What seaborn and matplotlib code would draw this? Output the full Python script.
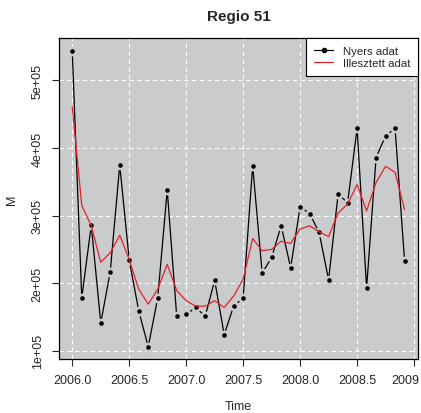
import numpy as np
import pandas as pd
import seaborn as sns
import matplotlib.pyplot as plt
import matplotlib.transforms as mtrans
from matplotlib.lines import Line2D

# monthly data, 2006.0 .. 2008.917
time = 2006 + np.arange(36) / 12

nyers = [5.43, 1.78, 2.86, 1.41, 2.17, 3.75, 2.34, 1.59, 1.06, 1.78,
         3.38, 1.51, 1.54, 1.64, 1.51, 2.04, 1.24, 1.66, 1.78, 3.74,
         2.15, 2.38, 2.85, 2.23, 3.13, 3.03, 2.75, 2.05, 3.32, 3.19,
         4.29, 1.93, 3.86, 4.18, 4.29, 2.33]

illesztett = [4.61, 3.15, 2.85, 2.31, 2.45, 2.71, 2.35, 1.91, 1.69, 1.91,
              2.28, 1.89, 1.74, 1.66, 1.66, 1.74, 1.64, 1.81, 2.06, 2.66,
              2.48, 2.50, 2.62, 2.59, 2.80, 2.85, 2.76, 2.69, 3.04, 3.17,
              3.46, 3.07, 3.49, 3.73, 3.64, 3.09]

df = pd.DataFrame({"Time": time,
                   "Nyers": np.array(nyers) * 1e5,
                   "Illesztett": np.array(illesztett) * 1e5})

bg = "#c9cbcc"
sns.set_style("ticks", {"axes.facecolor": bg})
plt.rcParams["font.family"] = ["Liberation Sans", "DejaVu Sans"]

fig = plt.figure(figsize=(4.21, 4.14), dpi=100)
ax = fig.add_axes([0.140, 0.130, 0.853, 0.776])

# raw data, R type="b": line with gaps around points
sns.lineplot(data=df, x="Time", y="Nyers", color="black", linewidth=0.9, ax=ax, zorder=2)
sns.scatterplot(data=df, x="Time", y="Nyers", color=bg, s=50, linewidth=0, ax=ax, zorder=3)
sns.scatterplot(data=df, x="Time", y="Nyers", color="black", s=11, linewidth=0, ax=ax, zorder=4)
# fitted
sns.lineplot(data=df, x="Time", y="Illesztett", color="#e8202a", linewidth=0.9, ax=ax, zorder=5)

ax.set_xlim(2005.883, 2009.035)
ax.set_ylim(0.875e5, 5.63e5)
ax.set_xticks([2006.0, 2006.5, 2007.0, 2007.5, 2008.0, 2008.5, 2009.0])
ax.set_xticklabels(["2006.0", "2006.5", "2007.0", "2007.5", "2008.0", "2008.5", "2009"])
ax.set_yticks([1e5, 2e5, 3e5, 4e5, 5e5])
ax.set_yticklabels(["1e+05", "2e+05", "3e+05", "4e+05", "5e+05"], rotation=90, va="center")
ax.grid(True, color="white", linestyle=(0, (4, 3)), linewidth=0.8)
ax.set_axisbelow(True)
ax.tick_params(direction="out", length=5, width=0.8, labelsize=9, pad=6)
# keep the last x label inside the picture
last = ax.get_xticklabels()[-1]
last.set_transform(last.get_transform() + mtrans.ScaledTranslation(-9 / 100, 0, fig.dpi_scale_trans))
for s in ax.spines.values():
    s.set_visible(True)
    s.set_color("black")
    s.set_linewidth(0.9)

ax.set_xlabel("Time", fontsize=9, labelpad=10)
ax.set_ylabel("M", fontsize=9, labelpad=10)
ax.set_title("Regio 51", fontsize=11, fontweight="bold", pad=13)

handles = [Line2D([], [], color="black", linewidth=0.9, marker="o", markersize=3),
           Line2D([], [], color="#e8202a", linewidth=0.9)]
leg = ax.legend(handles, ["Nyers adat", "Illesztett adat"], loc="upper right",
                fontsize=8.2, frameon=True, fancybox=False, borderaxespad=0,
                handlelength=1.7, handletextpad=0.8, borderpad=0.7, labelspacing=0.2)
leg.get_frame().set_edgecolor("black")
leg.get_frame().set_facecolor("white")
leg.get_frame().set_linewidth(0.8)
leg.get_frame().set_alpha(1)

fig.savefig("out.png", dpi=100)
